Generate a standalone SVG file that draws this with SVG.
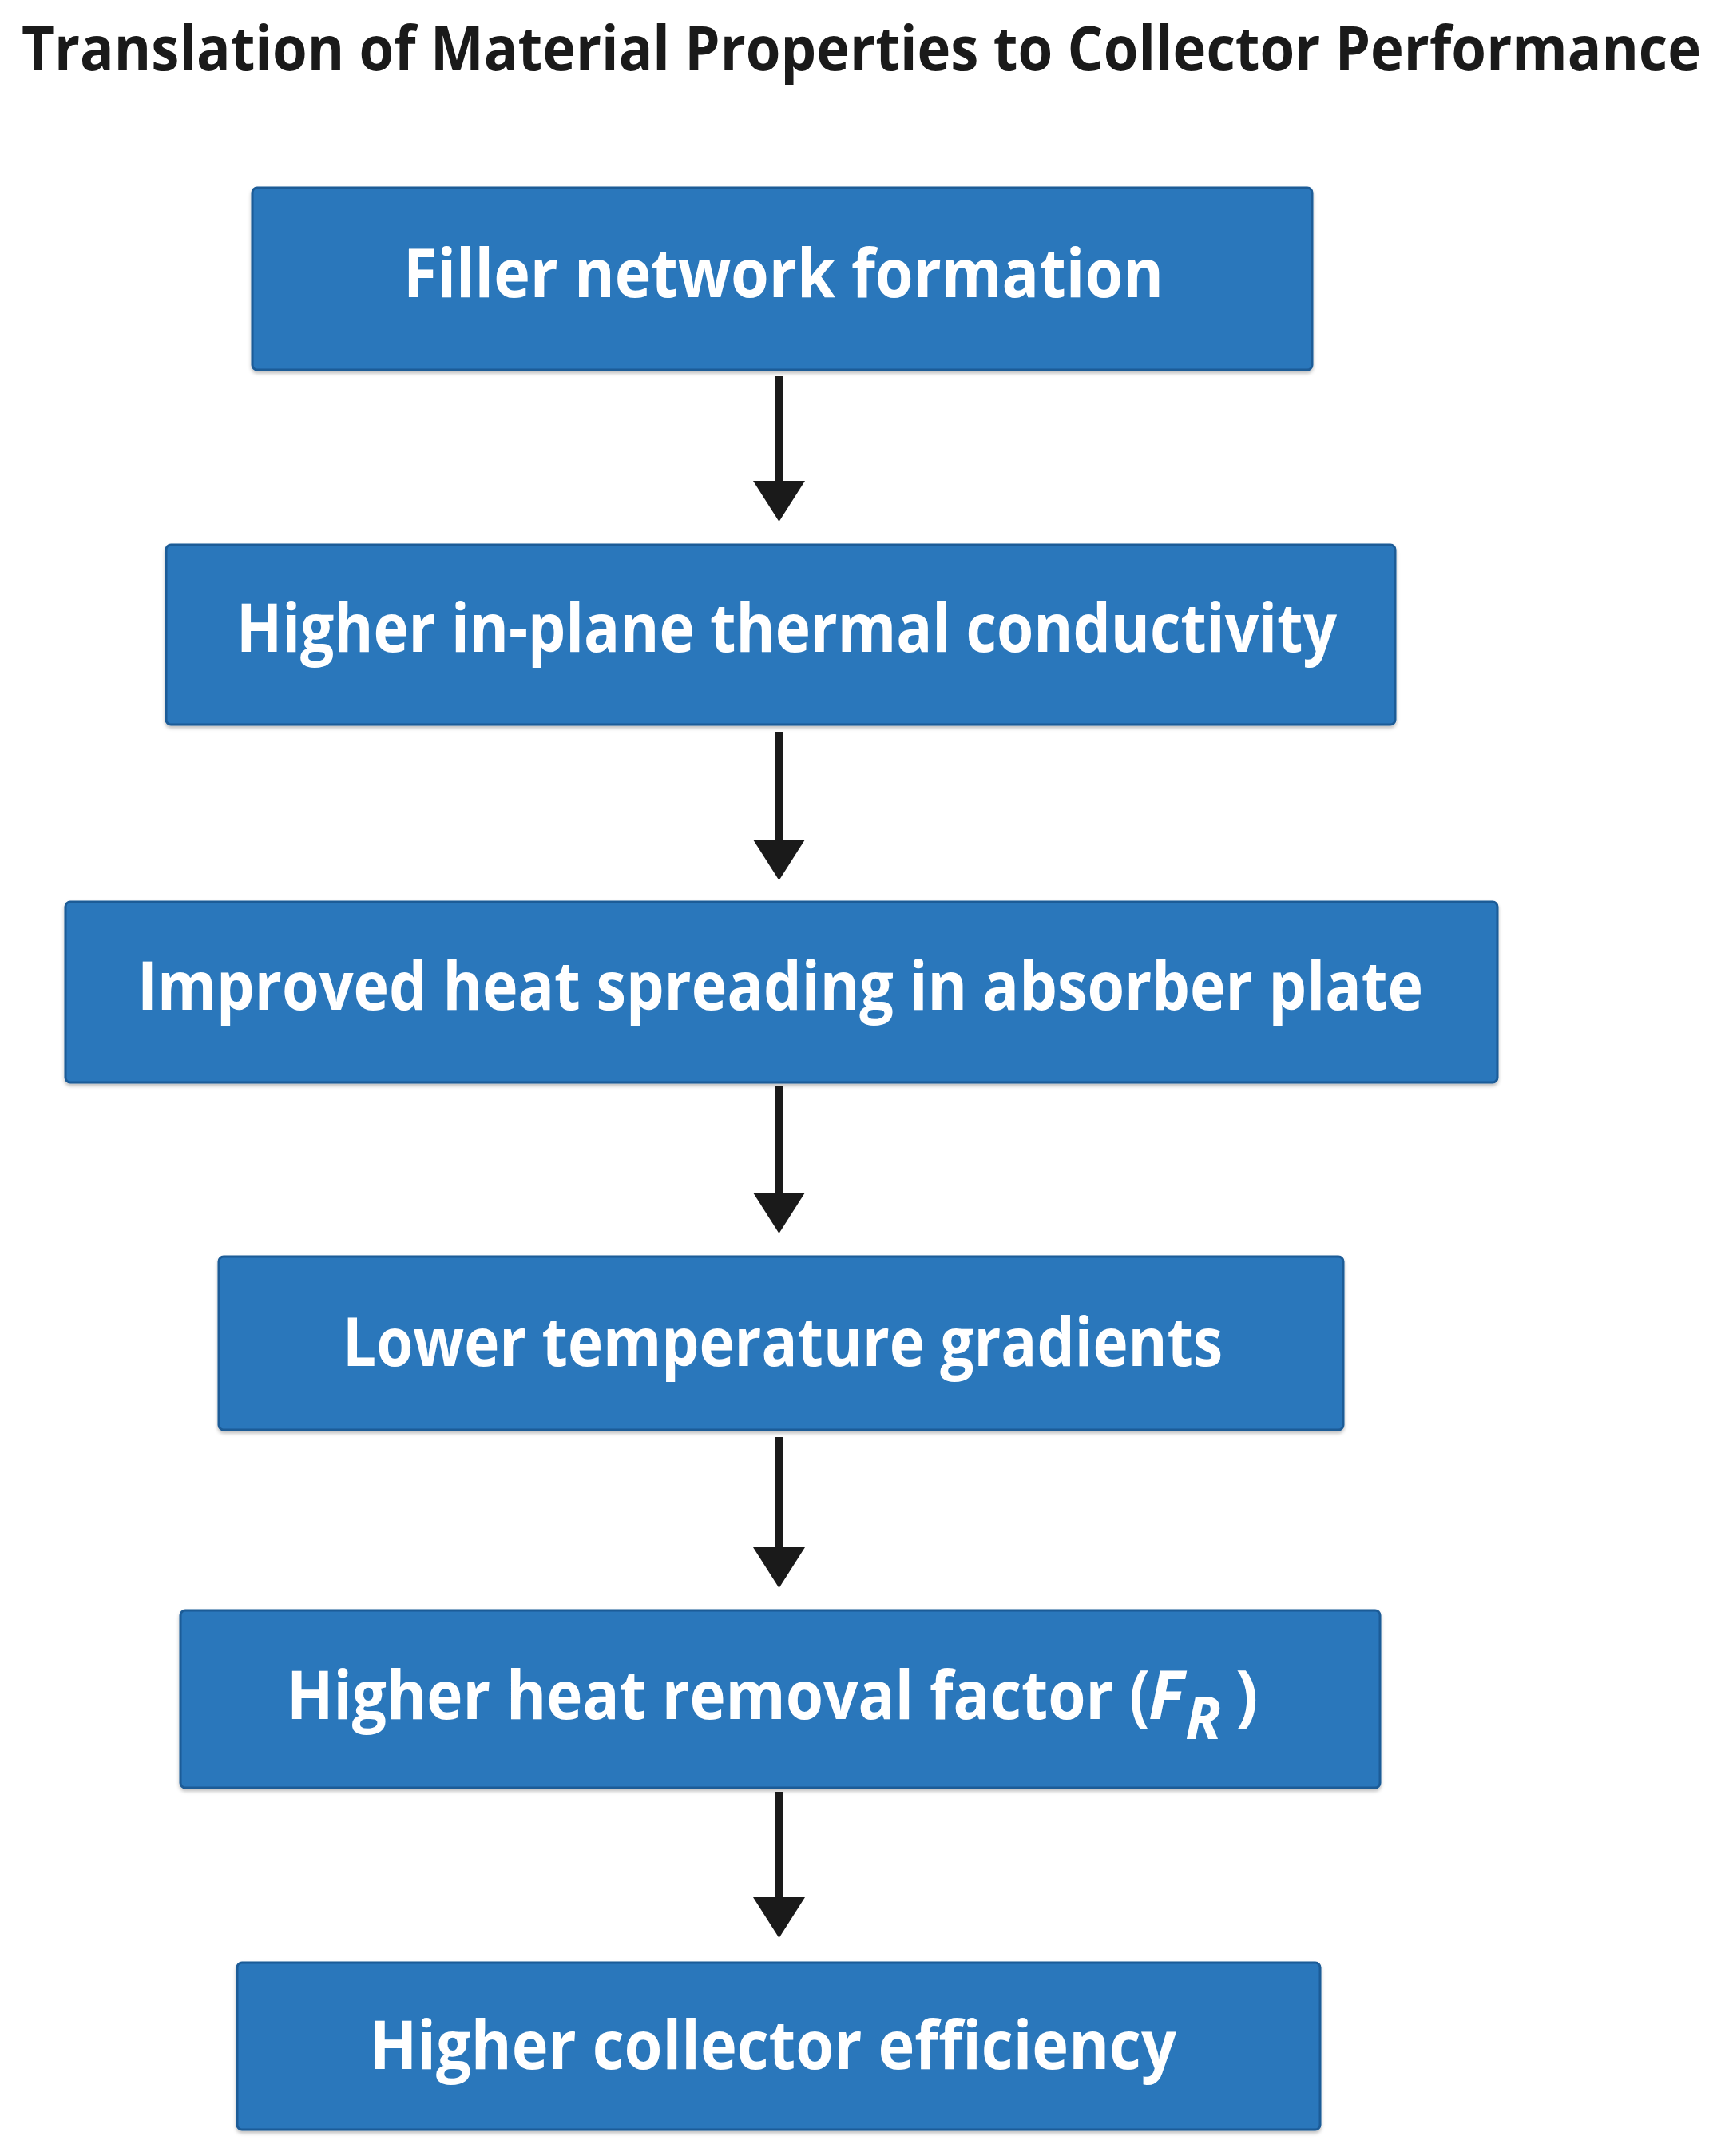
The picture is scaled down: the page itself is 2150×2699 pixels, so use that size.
<svg xmlns="http://www.w3.org/2000/svg" width="2150" height="2699" viewBox="0 0 2150 2699">
<style>
.title{font-family:"Open Sans","Liberation Sans",sans-serif;font-weight:700;font-size:77px;fill:#1a1a1a}
.box{fill:#2a77bb;stroke:#1d5b97;stroke-width:3}
.lbl{font-family:"Open Sans","Liberation Sans",sans-serif;font-weight:700;font-size:84px;fill:#ffffff}
.it{font-style:italic}
.sub{font-size:74px}
.conn{stroke:#1a1a1a;stroke-width:10;fill:none}
</style>
<defs>
<filter id="sh" x="-5%" y="-10%" width="110%" height="125%">
<feDropShadow dx="0" dy="3" stdDeviation="2" flood-color="#000" flood-opacity="0.25"/>
</filter>
<marker id="ah" viewBox="0 0 51 65" refX="0" refY="32.5" markerWidth="51" markerHeight="65" markerUnits="userSpaceOnUse" orient="auto">
<path d="M0,0 L51,32.5 L0,65 Z" fill="#1a1a1a"/>
</marker>
</defs>
<rect width="2150" height="2699" fill="#ffffff"/>
<text class="title" x="27" y="88" textLength="2103" lengthAdjust="spacingAndGlyphs">Translation of Material Properties to Collector Performance</text>

<g id="connectors">
<line class="conn" x1="975.5" y1="471" x2="975.5" y2="602" marker-end="url(#ah)"/>
<line class="conn" x1="975.5" y1="916" x2="975.5" y2="1051" marker-end="url(#ah)"/>
<line class="conn" x1="975.5" y1="1359" x2="975.5" y2="1493" marker-end="url(#ah)"/>
<line class="conn" x1="975.5" y1="1799" x2="975.5" y2="1937" marker-end="url(#ah)"/>
<line class="conn" x1="975.5" y1="2243" x2="975.5" y2="2375" marker-end="url(#ah)"/>
</g>

<g id="n1">
<rect class="box" filter="url(#sh)" x="316" y="235" width="1327" height="228" rx="6"/>
<text class="lbl" x="505" y="372" textLength="952" lengthAdjust="spacingAndGlyphs">Filler network formation</text>
</g>
<g id="n2">
<rect class="box" filter="url(#sh)" x="208" y="682" width="1539" height="225" rx="6"/>
<text class="lbl" x="296" y="816" textLength="1378" lengthAdjust="spacingAndGlyphs">Higher in-plane thermal conductivity</text>
</g>
<g id="n3">
<rect class="box" filter="url(#sh)" x="82" y="1129" width="1793" height="226" rx="6"/>
<text class="lbl" x="172" y="1264" textLength="1610" lengthAdjust="spacingAndGlyphs">Improved heat spreading in absorber plate</text>
</g>
<g id="n4">
<rect class="box" filter="url(#sh)" x="274" y="1573" width="1408" height="217" rx="6"/>
<text class="lbl" x="429" y="1710" textLength="1102" lengthAdjust="spacingAndGlyphs">Lower temperature gradients</text>
</g>
<g id="n5">
<rect class="box" filter="url(#sh)" x="226" y="2016" width="1502" height="222" rx="6"/>
<text class="lbl" y="2152"><tspan x="359" textLength="1081" lengthAdjust="spacingAndGlyphs">Higher heat removal factor (</tspan><tspan class="it" x="1438">F</tspan><tspan class="it sub" x="1484" y="2177">R</tspan><tspan x="1547" y="2152">)</tspan></text>
</g>
<g id="n6">
<rect class="box" filter="url(#sh)" x="297" y="2457" width="1356" height="209" rx="6"/>
<text class="lbl" x="463" y="2590" textLength="1010" lengthAdjust="spacingAndGlyphs">Higher collector efficiency</text>
</g>
</svg>
